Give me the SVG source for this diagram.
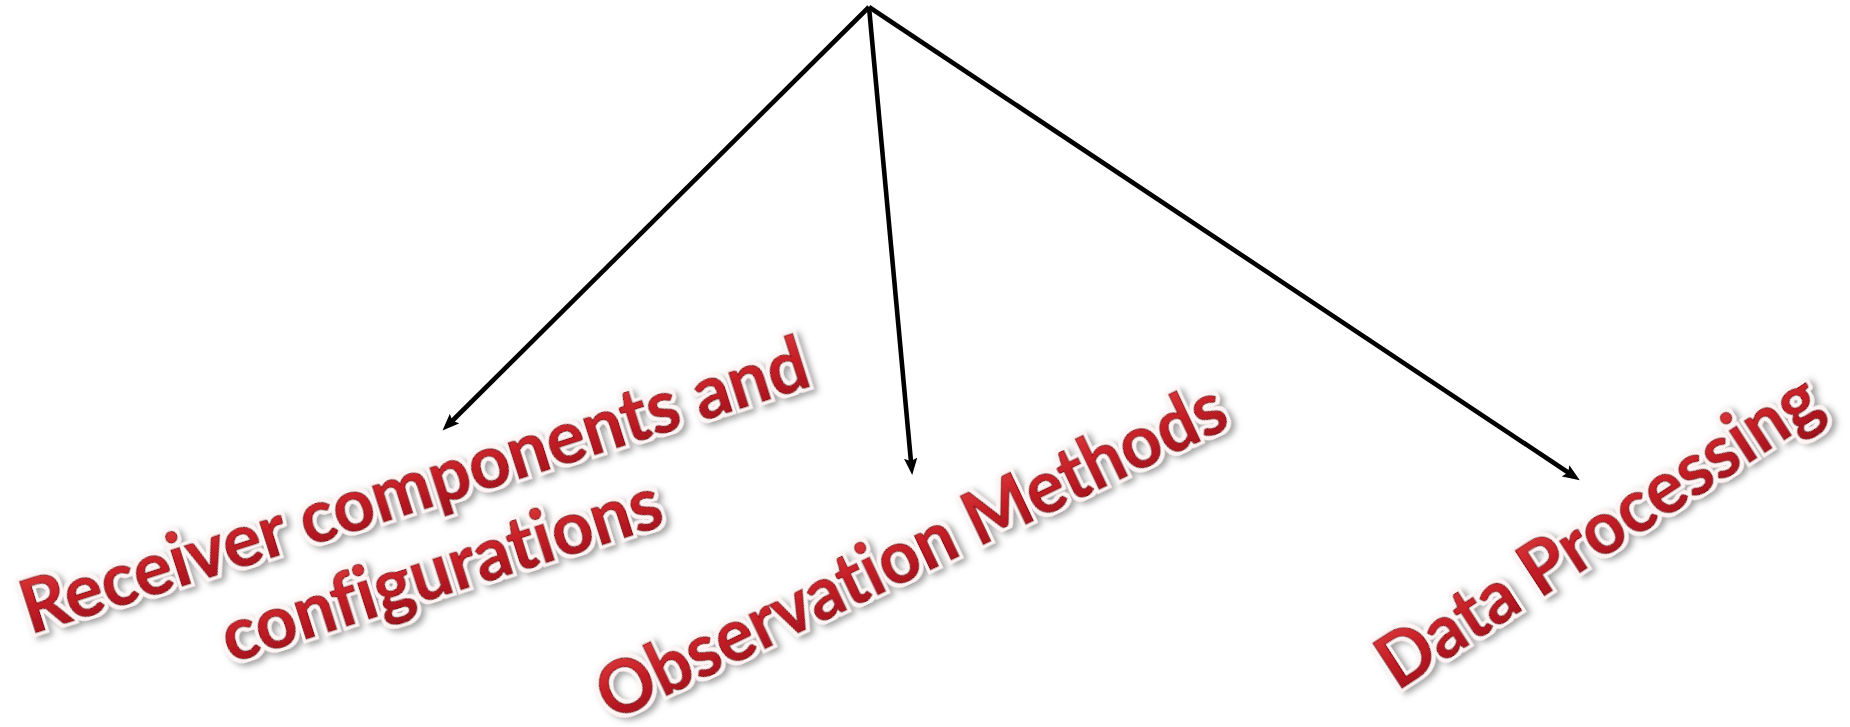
<svg xmlns="http://www.w3.org/2000/svg" width="1850" height="727" viewBox="0 0 1850 727">
  <defs>
    <marker id="arrow" viewBox="0 0 14 11" markerUnits="userSpaceOnUse" markerWidth="17" markerHeight="13.5" refX="4" refY="5.5" orient="auto">
      <path d="M0,0 L14,5.5 L0,11 L2.5,5.5 z" fill="#000"/>
    </marker>
    <linearGradient id="redfill" x1="0" y1="0" x2="0" y2="1">
      <stop offset="0" stop-color="#E04040"/>
      <stop offset="0.5" stop-color="#C41E26"/>
      <stop offset="1" stop-color="#98101A"/>
    </linearGradient>
    <filter id="wordart" x="-10%" y="-40%" width="120%" height="190%">
      <feMorphology in="SourceAlpha" operator="dilate" radius="3.2" result="thick"/>
      <feGaussianBlur in="thick" stdDeviation="3" result="blur"/>
      <feOffset in="blur" dx="3" dy="4" result="offBlur"/>
      <feFlood flood-color="#555" flood-opacity="0.55"/>
      <feComposite in2="offBlur" operator="in" result="shadow"/>
      <feFlood flood-color="#FFF4F4"/>
      <feComposite in2="thick" operator="in" result="outline"/>
      <feMerge>
        <feMergeNode in="shadow"/>
        <feMergeNode in="outline"/>
        <feMergeNode in="SourceGraphic"/>
      </feMerge>
    </filter>
  </defs>
  <style>
    .label { font-family: Lato, "Open Sans", "Liberation Sans", sans-serif; font-weight: bold; font-size: 74px; font-variant-ligatures: none; fill: url(#redfill); stroke: #8A0C14; stroke-width: 1.2; filter: url(#wordart); }
    .conn { stroke: #000; stroke-width: 4.6; fill: none; marker-end: url(#arrow); }
  </style>
  <rect width="1850" height="727" fill="#fff"/>
  <g id="connectors">
    <line class="conn" x1="869" y1="7" x2="451.1" y2="422.0"/>
    <line class="conn" x1="869" y1="7" x2="911.1" y2="463.0"/>
    <line class="conn" x1="869" y1="7" x2="1569.7" y2="473.5"/>
  </g>
  <g id="node-receiver" transform="translate(422,510) rotate(-17.65)">
    <text class="label" x="0" y="0" text-anchor="middle" textLength="822" lengthAdjust="spacingAndGlyphs">Receiver components and</text>
    <text class="label" x="0" y="88" text-anchor="middle" textLength="458" lengthAdjust="spacingAndGlyphs">configurations</text>
  </g>
  <g id="node-observation" transform="translate(922,574) rotate(-25.5)">
    <text class="label" x="0" y="0" text-anchor="middle" textLength="688" lengthAdjust="spacingAndGlyphs">Observation Methods</text>
  </g>
  <g id="node-data" transform="translate(1612,552) rotate(-33)">
    <text class="label" x="0" y="0" text-anchor="middle" textLength="512" lengthAdjust="spacingAndGlyphs">Data Processing</text>
  </g>
</svg>
